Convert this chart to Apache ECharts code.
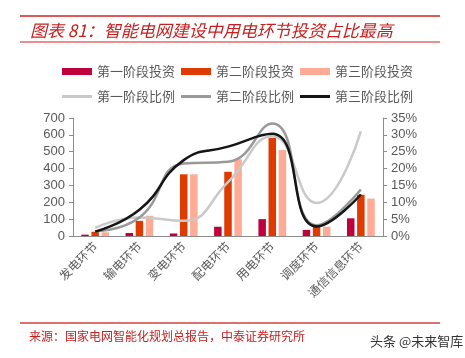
<!DOCTYPE html>
<html><head><meta charset="utf-8">
<script src="https://cdn.jsdelivr.net/npm/echarts@6/dist/echarts.min.js"></script>
<style>html,body{margin:0;padding:0;background:#fff}#c{width:465px;height:358px}</style>
</head><body><div id="c"></div>
<script>
var categories = ['发电环节','输电环节','变电环节','配电环节','用电环节','调度环节','通信信息环节'];
var stage1Invest = [8, 18, 15, 55, 100, 36, 105];
var stage2Invest = [25, 90, 366, 381, 582, 62, 245];
var stage3Invest = [22, 120, 366, 455, 510, 55, 222];
var stage1Ratio = [2.4, 5.5, 4.5, 16, 29.6, 9.8, 31];
var stage2Ratio = [1.4, 5.5, 21.5, 22, 33.4, 3.2, 13.8];
var stage3Ratio = [1.3, 7.8, 22.5, 26.5, 30.3, 2.8, 12.3];
var leftTicks = [0, 700, 100];
var rightTicks = [0, 35, 5];

var cjk = '"Noto Sans CJK SC", sans-serif';
var chart = echarts.init(document.getElementById('c'));
var axisGray = '#8c8c8c';
var labelGray = '#595959';
function barS(name, data, color) {
  return {name: name, type: 'bar', yAxisIndex: 0, data: data, barWidth: 7.5, barGap: '35%',
    itemStyle: {color: color}};
}
function lineS(name, data, color) {
  return {name: name, type: 'line', yAxisIndex: 1, data: data, smooth: 0.5, symbol: 'none',
    lineStyle: {color: color, width: 2.5}, itemStyle: {color: color}};
}
chart.setOption({
  animation: false,
  graphic: [
    {type: 'line', shape: {x1: 20, y1: 16, x2: 440, y2: 16}, style: {stroke: '#d42020', lineWidth: 1.5}},
    {type: 'line', shape: {x1: 20, y1: 42, x2: 440, y2: 42}, style: {stroke: '#d42020', lineWidth: 1}},
    {type: 'text', left: 30, top: 22, style: {text: '图表 81：智能电网建设中用电环节投资占比最高', fill: '#c81e1e',
      font: 'italic 17px ' + cjk}},
    {type: 'line', shape: {x1: 20, y1: 323, x2: 440, y2: 323}, style: {stroke: '#d44040', lineWidth: 1.5}},
    {type: 'text', left: 29, top: 330, style: {text: '来源：国家电网智能化规划总报告，中泰证券研究所', fill: '#c81e1e',
      font: '12px ' + cjk}},
    {type: 'text', left: 370, top: 335, style: {text: '头条 @未来智库', fill: '#333',
      font: '13px ' + cjk}}
  ],
  legend: [
    {data: ['第一阶段投资','第二阶段投资','第三阶段投资'], left: 57, top: 60, itemWidth: 30, itemHeight: 7,
      itemGap: 6, icon: 'rect', textStyle: {color: labelGray, fontSize: 13, fontFamily: cjk}},
    {data: ['第一阶段比例','第二阶段比例','第三阶段比例'], left: 57, top: 85, itemWidth: 30, itemHeight: 3,
      itemGap: 6, icon: 'rect', textStyle: {color: labelGray, fontSize: 13, fontFamily: cjk}}
  ],
  grid: {left: 73, right: 82, top: 118, bottom: 122},
  xAxis: {type: 'category', data: categories,
    axisLine: {lineStyle: {color: axisGray}},
    axisTick: {length: 4, lineStyle: {color: axisGray}},
    axisLabel: {rotate: 45, color: labelGray, fontSize: 12, fontFamily: cjk, margin: 8, interval: 0}},
  yAxis: [
    {type: 'value', min: leftTicks[0], max: leftTicks[1], interval: leftTicks[2], splitLine: {show: false},
      axisLine: {show: true, lineStyle: {color: axisGray}},
      axisTick: {show: true, length: 4, lineStyle: {color: axisGray}},
      axisLabel: {color: labelGray, fontSize: 13, fontFamily: '"Liberation Sans", Arial', margin: 8}},
    {type: 'value', min: rightTicks[0], max: rightTicks[1], interval: rightTicks[2], splitLine: {show: false},
      axisLine: {show: true, lineStyle: {color: axisGray}},
      axisTick: {show: true, length: 4, lineStyle: {color: axisGray}},
      axisLabel: {color: labelGray, fontSize: 13, fontFamily: '"Liberation Sans", Arial', margin: 8, formatter: '{value}%'}}
  ],
  series: [
    barS('第一阶段投资', stage1Invest, '#c0003a'),
    barS('第二阶段投资', stage2Invest, '#df3a00'),
    barS('第三阶段投资', stage3Invest, '#ffab96'),
    lineS('第一阶段比例', stage1Ratio, '#c9c9c9'),
    lineS('第二阶段比例', stage2Ratio, '#999999'),
    lineS('第三阶段比例', stage3Ratio, '#151515')
  ]
});
</script></body></html>
